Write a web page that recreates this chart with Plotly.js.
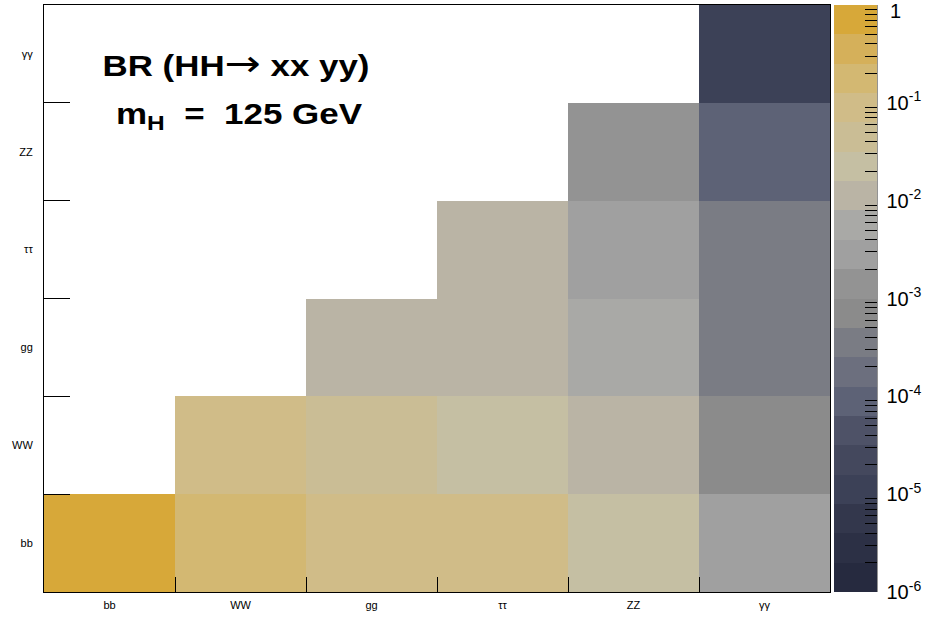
<!DOCTYPE html>
<html>
<head>
<meta charset="utf-8">
<script src="https://cdn.plot.ly/plotly-3.0.1.min.js"></script>
<style>html,body{margin:0;padding:0;background:#fff;}#plot{width:927px;height:619px;}</style>
</head>
<body>
<div id="plot"></div>
<script>
// Decay channels (x and y categories)
const categories = ["bb", "WW", "gg", "ττ", "ZZ", "γγ"];

// BR(HH -> xx yy) per row (y category), columns follow x categories
const rowBB = [0.339, 0.1245, 0.0477, 0.0365, 0.0153, 0.00132];
const rowWW = [null, 0.0457, 0.0175, 0.0134, 0.0056, 0.000485];
const rowGG = [null, null, 0.0067, 0.00513, 0.00214, 0.000186];
const rowTT = [null, null, null, 0.0040, 0.00164, 0.000142];
const rowZZ = [null, null, null, null, 0.000686, 0.000059];
const rowAA = [null, null, null, null, null, 0.00000515];

// Colour bar ticks (log10 of BR); the top label "1" is drawn as an annotation so it is not clipped
const majorTickVals = [-6, -5, -4, -3, -2, -1, 0];
const majorTickText = ["10<sup>-6</sup>", "10<sup>-5</sup>", "10<sup>-4</sup>", "10<sup>-3</sup>", "10<sup>-2</sup>", "10<sup>-1</sup>", ""];
const topTickLabel = "1";
const minorMultipliers = [2, 3, 4, 5, 6, 7, 8, 9];

// Palette bands, top (1) to bottom (1e-6)
const bandColors = ["#D7A839", "#D5B05A", "#D3B872", "#D0BC88", "#CABD95", "#C5BFA3",
  "#BAB4A5", "#A9A9A6", "#A0A0A0", "#939393", "#8B8B8B", "#7A7C84", "#6C6F7E",
  "#5D6276", "#4E5267", "#44485D", "#3C4157", "#33374C", "#2C3045", "#262A3F"];

const rows = [rowBB, rowWW, rowGG, rowTT, rowZZ, rowAA];
const z = rows.map(r => r.map(v => v == null ? null : Math.log10(v)));

const nb = bandColors.length;
const colorscale = [];
for (let i = 0; i < nb; i++) {
  const c = bandColors[nb - 1 - i];
  colorscale.push([i / nb, c]);
  colorscale.push([(i + 1) / nb, c]);
}

const minorTickVals = [];
for (let d = -6; d < 0; d++) {
  minorMultipliers.forEach(m => minorTickVals.push(Math.log10(m) + d));
}

const FONT = "Liberation Sans, Arial, Helvetica, sans-serif";
const PAD = "\u2005";

const baseBar = {
  x: 1.005, xanchor: "left", y: 0.5, yanchor: "middle",
  len: 1, lenmode: "fraction", thickness: 43, thicknessmode: "pixels",
  xpad: 0, ypad: 0, outlinewidth: 0,
  ticks: "inside", tickcolor: "#000", tickwidth: 1,
  tickmode: "array", ticklabeloverflow: "allow"
};

const heat = {
  type: "heatmap", x: categories, y: categories, z: z,
  zmin: -6.3, zmax: -0.3, colorscale: colorscale, showscale: false,
  hoverongaps: false
};

const barMajor = {
  type: "scatter", mode: "markers", x: [categories[0], categories[0]], y: [categories[0], categories[0]],
  hoverinfo: "skip", showlegend: false,
  marker: {
    color: [-6, 0], cmin: -6, cmax: 0, colorscale: colorscale, opacity: 0, size: 1,
    showscale: true,
    colorbar: Object.assign({}, baseBar, {
      ticklen: 26, tickvals: majorTickVals,
      ticktext: majorTickText.map(t => t ? PAD + t : t),
      tickfont: {family: FONT, size: 20, color: "#000"}
    })
  }
};

const barMinor = {
  type: "scatter", mode: "markers", x: [categories[0], categories[0]], y: [categories[0], categories[0]],
  hoverinfo: "skip", showlegend: false,
  marker: {
    color: [-6, 0], cmin: -6, cmax: 0, colorscale: colorscale, opacity: 0, size: 1,
    showscale: true,
    colorbar: Object.assign({}, baseBar, {
      ticklen: 12, tickvals: minorTickVals, showticklabels: false
    })
  }
};

const axisBase = {
  type: "category", categoryorder: "array", categoryarray: categories,
  showline: true, linecolor: "#000", linewidth: 1, mirror: true,
  ticks: "inside", tickson: "boundaries", tickcolor: "#000", tickwidth: 1,
  showgrid: false, zeroline: false, fixedrange: true,
  tickfont: {family: FONT, size: 11, color: "#000"}
};

const ARROW = '<span style="font-family:DejaVu Sans;font-weight:normal;font-size:36px">→</span>';
const NB = "\u00A0";

const layout = {
  width: 927, height: 619,
  margin: {l: 44, r: 97, t: 5, b: 27, autoexpand: false},
  paper_bgcolor: "#fff", plot_bgcolor: "#fff",
  font: {family: FONT, color: "#000"},
  showlegend: false,
  xaxis: Object.assign({}, axisBase, {ticklen: 15, range: [-0.5, 5.5], ticklabelstandoff: 3}),
  yaxis: Object.assign({}, axisBase, {ticklen: 26, range: [-0.5, 5.5], ticklabelstandoff: 8}),
  shapes: [{
    type: "line", xref: "paper", yref: "paper",
    x0: 1.0597, x1: 1.0597, y0: 0, y1: 1,
    line: {color: "#000", width: 1}
  }],
  annotations: [
    {xref: "paper", yref: "paper", x: 0.2449, y: 0.900, xanchor: "center", yanchor: "middle",
     showarrow: false, text: "<b>BR (HH" + ARROW + " xx yy)</b>", font: {family: FONT, size: 29, color: "#000"}},
    {xref: "paper", yref: "paper", x: 0.2487, y: 0.811, xanchor: "center", yanchor: "middle",
     showarrow: false, text: "<b>m<sub>H</sub>" + NB + " = " + NB + "125 GeV</b>", font: {family: FONT, size: 29, color: "#000"}},
    {xref: "paper", yref: "paper", x: 1.0738, y: 0.990, xanchor: "left", yanchor: "middle",
     showarrow: false, text: topTickLabel, font: {family: FONT, size: 20, color: "#000"}}
  ]
};

Plotly.newPlot("plot", [heat, barMajor, barMinor], layout, {displayModeBar: false, staticPlot: true}).then(function () {
  const texts = document.querySelectorAll("#plot .annotation-text");
  const targetWidths = [267, 247];
  texts.forEach(function (t, i) {
    if (!targetWidths[i]) return;
    const w = t.getBBox().width;
    if (!w) return;
    t.style.transformBox = "fill-box";
    t.style.transformOrigin = "center";
    t.style.transform = "scaleX(" + (targetWidths[i] / w) + ")";
  });
});
</script>
</body>
</html>
